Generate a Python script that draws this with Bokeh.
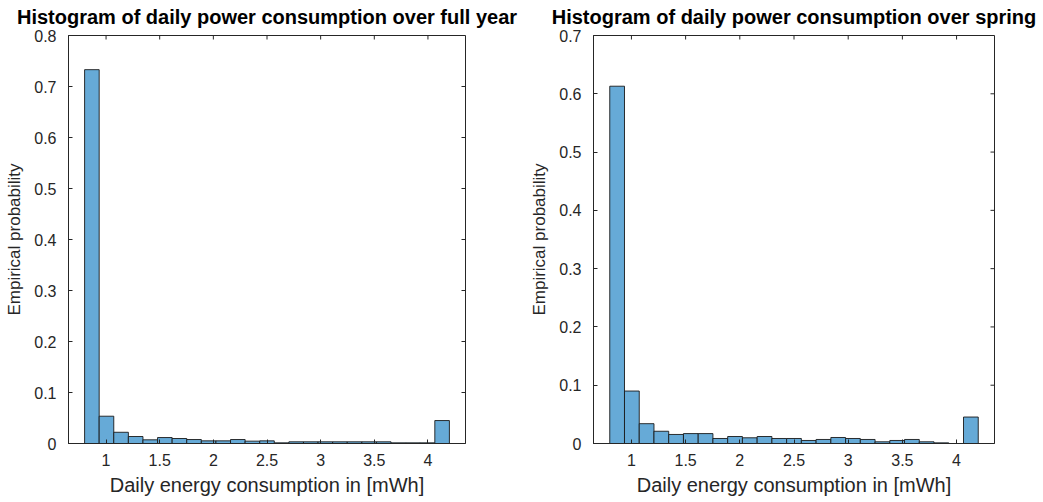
from bokeh.plotting import figure
from bokeh.layouts import row
from bokeh.models import FixedTicker, Range1d
from bokeh.embed import file_html
from bokeh.resources import INLINE
import numpy as np

# Histogram bins shared by both panels (25 equal-width bins)
bin_start = 0.8
bin_stop = 4.2
n_bins = 25

# Empirical probability per bin, full year
year_prob = [0.733, 0.0535, 0.022, 0.0137, 0.0072, 0.0117, 0.0098, 0.0078,
             0.0052, 0.0052, 0.0078, 0.0046, 0.0052, 0.0013, 0.0033, 0.0033,
             0.0033, 0.0033, 0.0033, 0.0033, 0.0033, 0.0013, 0.0013, 0.0013,
             0.045]

# Empirical probability per bin, spring
spring_prob = [0.613, 0.090, 0.034, 0.021, 0.0155, 0.017, 0.017, 0.0086,
               0.012, 0.0098, 0.012, 0.0086, 0.0086, 0.0052, 0.0069, 0.0103,
               0.0086, 0.0069, 0.0029, 0.0052, 0.0069, 0.0029, 0.0011, 0.0,
               0.0454]

x_ticks = [1, 1.5, 2, 2.5, 3, 3.5, 4]
x_tick_labels = ["1", "1.5", "2", "2.5", "3", "3.5", "4"]

year_y_ticks = [0, 0.1, 0.2, 0.3, 0.4, 0.5, 0.6, 0.7, 0.8]
year_y_labels = ["0", "0.1", "0.2", "0.3", "0.4", "0.5", "0.6", "0.7", "0.8"]
spring_y_ticks = [0, 0.1, 0.2, 0.3, 0.4, 0.5, 0.6, 0.7]
spring_y_labels = ["0", "0.1", "0.2", "0.3", "0.4", "0.5", "0.6", "0.7"]

x_limits = (0.65, 4.35)

FONT = "Liberation Sans"
INK = "#262626"
BAR_FILL = "#66aad7"
TICK_LEN = 4

edges = np.linspace(bin_start, bin_stop, n_bins + 1)


def style_axis(ax, ticks, labels):
    ax.ticker = FixedTicker(ticks=ticks)
    ax.major_label_overrides = {t: s for t, s in zip(ticks, labels)}
    ax.minor_tick_line_color = None
    ax.major_tick_in = TICK_LEN
    ax.major_tick_out = 0
    ax.major_tick_line_color = INK
    ax.axis_line_color = INK
    ax.major_label_text_font = FONT
    ax.major_label_text_color = INK
    ax.major_label_text_font_size = "16px"


def make_panel(title, probs, y_max, y_ticks, y_labels, fw, border_l, border_r):
    p = figure(frame_width=fw, frame_height=408,
               x_range=Range1d(*x_limits), y_range=Range1d(0, y_max),
               output_backend="svg", toolbar_location=None,
               min_border_left=border_l, min_border_right=border_r,
               min_border_top=35, min_border_bottom=59,
               title=title)
    p.title.text_font = FONT
    p.title.text_font_size = "20px"
    p.title.text_font_style = "bold"
    p.title.text_color = "#000000"
    p.title.align = "center"
    p.title.vertical_align = "top"
    p.title.standoff = 11

    p.quad(left=edges[:-1], right=edges[1:], bottom=0, top=probs,
           fill_color=BAR_FILL, line_color="#1a1a1a", line_width=0.9)

    # mirrored tick marks along the top and right edges of the box
    p.ray(x=x_ticks, y=y_max, length=TICK_LEN, length_units="screen",
          angle=-np.pi / 2, line_color=INK, line_width=1)
    p.ray(x=x_limits[1], y=y_ticks, length=TICK_LEN, length_units="screen",
          angle=np.pi, line_color=INK, line_width=1)

    p.grid.visible = False
    p.outline_line_color = INK
    p.outline_line_width = 1
    p.background_fill_color = "white"
    p.border_fill_color = "white"

    style_axis(p.xaxis[0], x_ticks, x_tick_labels)
    style_axis(p.yaxis[0], y_ticks, y_labels)
    p.xaxis[0].major_label_standoff = 10
    p.yaxis[0].major_label_standoff = 12

    p.xaxis[0].axis_label = "Daily energy consumption in [mWh]"
    p.yaxis[0].axis_label = "Empirical probability"
    for ax in (p.xaxis[0], p.yaxis[0]):
        ax.axis_label_text_font = FONT
        ax.axis_label_text_font_style = "normal"
        ax.axis_label_text_color = INK
    p.xaxis[0].axis_label_text_font_size = "20px"
    p.yaxis[0].axis_label_text_font_size = "17px"
    p.xaxis[0].axis_label_standoff = 5
    p.yaxis[0].axis_label_standoff = 7
    return p


p_year = make_panel("Histogram of daily power consumption over full year",
                    year_prob, 0.8, year_y_ticks, year_y_labels, 397, 68, 56)
p_spring = make_panel("Histogram of daily power consumption over spring",
                      spring_prob, 0.7, spring_y_ticks, spring_y_labels, 401, 72, 49)

layout = row(p_year, p_spring)

open("out.html", "w").write(file_html(layout, INLINE))
